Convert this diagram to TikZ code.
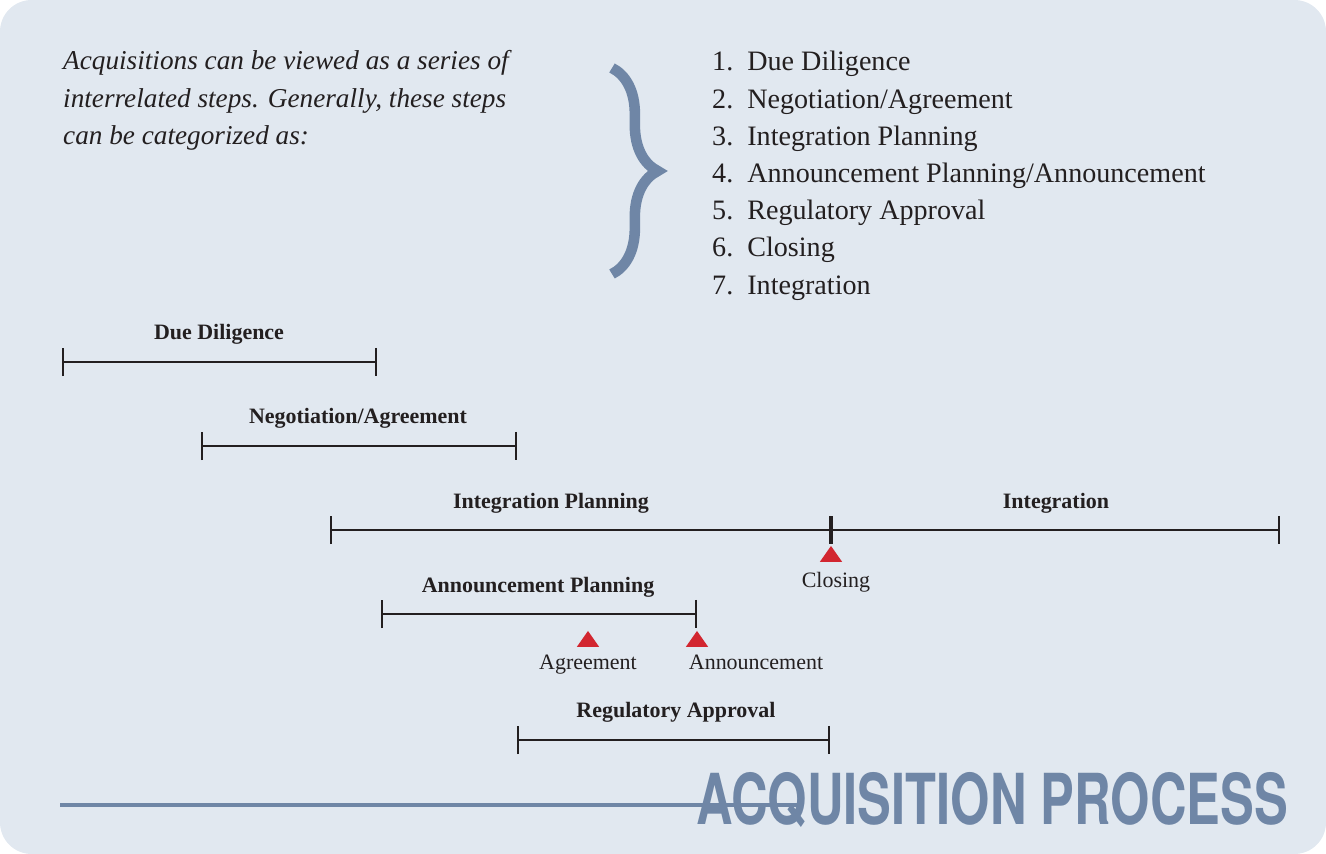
\documentclass[tikz,border=0pt]{standalone}
\usepackage{fontspec}
\setmainfont{Liberation Serif}
\newfontfamily\titlefont{TeX Gyre Heros}
\usetikzlibrary{arrows.meta,decorations.pathreplacing,positioning,shapes.geometric}
\definecolor{panelbg}{HTML}{E1E8F0}
\definecolor{slate}{HTML}{6F86A6}
\definecolor{marker}{HTML}{D22630}
\definecolor{ink}{HTML}{231F20}

\begin{document}
\begin{tikzpicture}[x=0.02cm,y=-0.02cm,
bar/.style={draw=ink, line width=1.3pt, {Bar[width=16pt]}-{Bar[width=16pt]}},
phase/.style={font=\bfseries\fontsize{12.5}{14}\selectfont, text=ink, anchor=base},
event/.style={font=\fontsize{12.5}{14}\selectfont, text=ink, anchor=base},
tick/.style={fill=marker, isosceles triangle, isosceles triangle apex angle=70, shape border rotate=90, inner sep=0pt, minimum height=9pt}
]
    \useasboundingbox (0,0) rectangle (1326,854);
    \fill[panelbg, rounded corners=18pt] (0,0) rectangle (1326,854);

    \node[anchor=base west, align=left, font=\itshape\fontsize{15.5}{21.5}\selectfont, text=ink] (intro) at (57,145)
    {Acquisitions can be viewed as a series of\\ interrelated steps. Generally, these steps\\ can be categorized as:};

    \coordinate (br1) at (612,68);
    \coordinate (br2) at (612,274);
    \draw[slate, line width=6pt, decorate, decoration={brace, amplitude=26pt, aspect=0.5}] (br1) -- (br2);

    \foreach \num/\step [count=\i] in {1/{Due Diligence}, 2/{Negotiation/Agreement}, 3/{Integration Planning},
      4/{Announcement Planning/Announcement}, 5/{Regulatory Approval}, 6/{Closing}, 7/{Integration}}
      \node[anchor=base west, font=\fontsize{16}{18}\selectfont, text=ink] (item\i) at (706,71+37.2*\i-37.2) {\num.\ \ \step};

    % phase bars
    \coordinate (dd1) at (62,362);   \coordinate (dd2) at (377,362);
    \coordinate (na1) at (201,446);  \coordinate (na2) at (517,446);
    \coordinate (ip1) at (330,530);  \coordinate (ip2) at (831,530);
    \coordinate (in2) at (1280,530);
    \coordinate (ap1) at (381,614);  \coordinate (ap2) at (697,614);
    \coordinate (ra1) at (517,740);  \coordinate (ra2) at (830,740);

    \draw[bar] (dd1) -- (dd2);
    \draw[bar] (na1) -- (na2);
    \draw[bar] (ip1) -- (ip2);
    \draw[bar] (ip2) -- (in2);
    \draw[bar] (ap1) -- (ap2);
    \draw[bar] (ra1) -- (ra2);

    \node[phase] (ddlabel) at (219,340) {Due Diligence};
    \node[phase] (nalabel) at (358,424) {Negotiation/Agreement};
    \node[phase] (iplabel) at (551,509) {Integration Planning};
    \node[phase] (inlabel) at (1056,509) {Integration};
    \node[phase] (aplabel) at (538,593) {Announcement Planning};
    \node[phase] (ralabel) at (676,718) {Regulatory Approval};

    % milestones
    \node[tick] (closing) at (831,556) {};
    \node[tick] (agreement) at (588,641) {};
    \node[tick] (announce) at (697,641) {};
    \node[event] (closinglabel) at (836,588) {Closing};
    \node[event] (agreementlabel) at (588,670) {Agreement};
    \node[event] (announcelabel) at (756,670) {Announcement};

    % title
    \coordinate (rule1) at (60,805);
    \coordinate (rule2) at (800,805);
    \draw[slate, line width=2.2pt] (rule1) -- (rule2);
    \node[anchor=base east, xscale=0.72, font=\titlefont\bfseries\fontsize{40}{44}\selectfont, text=slate, inner sep=0pt] (title) at (1288,825) {ACQUISITION PROCESS};
\end{tikzpicture}
\end{document}
